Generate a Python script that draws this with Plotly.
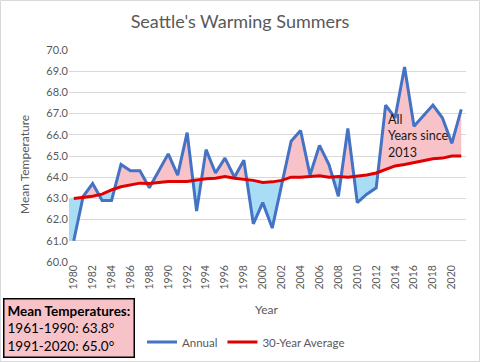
import plotly.graph_objects as go

years = list(range(1980, 2022))
annual = [61.0, 63.1, 63.7, 62.9, 62.9, 64.6, 64.3, 64.3, 63.5, 64.3,
          65.1, 64.1, 66.1, 62.4, 65.3, 64.2, 64.9, 64.0, 64.8, 61.8,
          62.8, 61.6, 63.6, 65.7, 66.2, 64.1, 65.5, 64.6, 63.1, 66.3,
          62.8, 63.2, 63.5, 67.4, 66.8, 69.2, 66.4, 66.9, 67.4, 66.8,
          65.6, 67.2]
avg30 = [63.0, 63.05, 63.1, 63.2, 63.4, 63.55, 63.65, 63.72, 63.7, 63.75,
         63.8, 63.8, 63.8, 63.87, 63.93, 63.95, 64.03, 63.95, 63.9, 63.85,
         63.75, 63.78, 63.85, 64.0, 64.0, 64.03, 64.07, 64.0, 64.03, 64.0,
         64.05, 64.1, 64.2, 64.38, 64.53, 64.6, 64.7, 64.8, 64.87, 64.9,
         65.0, 65.0]
tick_years = list(range(1980, 2021, 2))
y_ticks = [60 + i for i in range(11)]
grid_ticks = [60 + i for i in range(10)]

PINK = "#F8C3C8"
BLUE_FILL = "#A9DDF5"
FONT = "Lato"
GRAY = "#595959"

# dense arrays with crossing points inserted
xs = [years[0] - 0.5]
a_d = [annual[0]]
m_d = [avg30[0]]
for i in range(len(years)):
    if i > 0:
        d0 = annual[i - 1] - avg30[i - 1]
        d1 = annual[i] - avg30[i]
        if d0 * d1 < 0:
            t = d0 / (d0 - d1)
            xc = years[i - 1] + t
            yc = avg30[i - 1] + t * (avg30[i] - avg30[i - 1])
            xs.append(xc); a_d.append(yc); m_d.append(yc)
    xs.append(years[i]); a_d.append(annual[i]); m_d.append(avg30[i])

hi = [max(a, m) for a, m in zip(a_d, m_d)]
lo = [min(a, m) for a, m in zip(a_d, m_d)]

fig = go.Figure()
nol = dict(width=0)
fig.add_trace(go.Scatter(x=xs, y=m_d, mode="lines", line=nol, showlegend=False, hoverinfo="skip"))
fig.add_trace(go.Scatter(x=xs, y=hi, mode="lines", line=nol, fill="tonexty", fillcolor=PINK,
                         showlegend=False, hoverinfo="skip"))
fig.add_trace(go.Scatter(x=xs, y=lo, mode="lines", line=nol, showlegend=False, hoverinfo="skip"))
fig.add_trace(go.Scatter(x=xs, y=m_d, mode="lines", line=nol, fill="tonexty", fillcolor=BLUE_FILL,
                         showlegend=False, hoverinfo="skip"))
fig.add_trace(go.Scatter(x=years, y=annual, mode="lines", name="Annual",
                         line=dict(color="#4472C4", width=3)))
fig.add_trace(go.Scatter(x=years, y=avg30, mode="lines", name="30-Year Average",
                         line=dict(color="#E00000", width=3)))

L, R, T, B = 69, 466, 50, 262
W, H = R - L, B - T

def px(x):
    return (x - L) / W

def py(y):
    return (B - y) / H

fig.update_layout(
    width=480, height=362,
    margin=dict(l=L, r=480 - R, t=T, b=362 - B, autoexpand=False),
    paper_bgcolor="white", plot_bgcolor="white",
    font=dict(family=FONT, color=GRAY, size=11),
    title=dict(text="Seattle's Warming Summers", x=0.5, xanchor="center",
               y=1 - 22 / 362, yanchor="middle",
               font=dict(family=FONT, size=18, color=GRAY)),
    showlegend=True,
    legend=dict(orientation="h", x=px(142), xanchor="left", y=py(342), yanchor="middle",
                font=dict(family=FONT, size=11.5, color=GRAY), bgcolor="rgba(0,0,0,0)",
                traceorder="normal", itemwidth=30, tracegroupgap=0),
    xaxis=dict(range=[years[0] - 0.5, years[-1] + 0.5], tickvals=tick_years,
               ticktext=[str(y) for y in tick_years], tickangle=-90,
               showgrid=False, zeroline=False, showline=False, ticks="",
               tickfont=dict(size=10.5, color=GRAY)),
    yaxis=dict(range=[60, 70], tickvals=y_ticks,
               ticktext=[f"{v:.1f}" for v in y_ticks],
               showgrid=False, zeroline=False,
               showline=False, ticks="", tickfont=dict(size=11, color=GRAY)),
    yaxis2=dict(range=[60, 70], overlaying="y", tickvals=grid_ticks, showticklabels=False,
                showgrid=True, gridcolor="#D9D9D9", gridwidth=1, zeroline=False,
                showline=False, ticks="", layer="below traces"),
    shapes=[dict(type="rect", xref="paper", yref="paper",
                 x0=px(0.5), x1=px(479.5), y0=py(361.5), y1=py(0.5),
                 line=dict(color="#D9D9D9", width=1), fillcolor="rgba(0,0,0,0)", layer="below")],
    annotations=[
        dict(xref="paper", yref="paper", x=px(24), y=py(165), xanchor="center", yanchor="middle",
             text="Mean Temperature", textangle=-90, showarrow=False,
             font=dict(family=FONT, size=12, color=GRAY)),
        dict(xref="paper", yref="paper", x=px(266), y=py(309), xanchor="center", yanchor="middle",
             text="Year", showarrow=False, font=dict(family=FONT, size=12, color=GRAY)),
        dict(xref="x", yref="y", x=2013, y=67.15, xanchor="left", yanchor="top",
             text="All<br>Years since<br>2013", showarrow=False, align="left",
             font=dict(family=FONT, size=12.5, color="#1a1a1a")),
        dict(xref="paper", yref="paper", x=px(3), y=py(297.5), xanchor="left", yanchor="top",
             text="<b>Mean Temperatures:</b><br>1961-1990: 63.8°<br>1991-2020: 65.0°",
             showarrow=False, align="left", bgcolor=PINK, bordercolor="black", borderwidth=1.5,
             borderpad=3, font=dict(family=FONT, size=13.5, color="black")),
    ],
)
# invisible trace to activate the grid axis
fig.add_trace(go.Scatter(x=[years[0]], y=[annual[0]], yaxis="y2", mode="markers",
                         marker=dict(opacity=0), showlegend=False, hoverinfo="skip"))

fig.write_html("out.html", config={"displayModeBar": False},
               post_script="document.body.style.margin='0';document.body.style.padding='0';")
